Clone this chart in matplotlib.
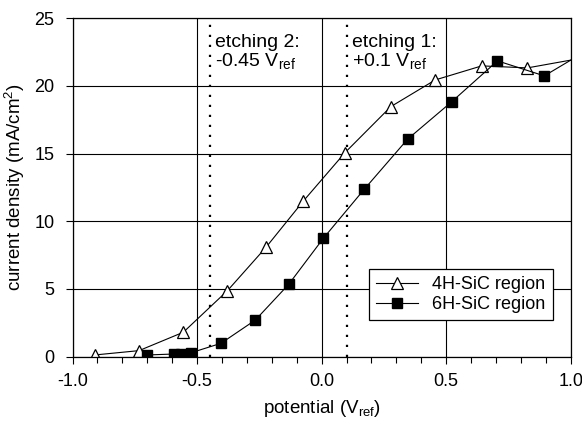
import matplotlib
matplotlib.use("Agg")
import matplotlib.pyplot as plt
from matplotlib.ticker import MultipleLocator

plt.rcParams['font.family'] = ['Liberation Sans', 'DejaVu Sans']
plt.rcParams['mathtext.fontset'] = 'custom'
plt.rcParams['mathtext.rm'] = 'Liberation Sans'
plt.rcParams['mathtext.it'] = 'Liberation Sans'

# 4H-SiC region (open triangles)
pot_4h = [-0.91, -0.733, -0.555, -0.378, -0.223, -0.073, 0.094, 0.278, 0.456, 0.643, 0.826, 1.05]
cur_4h = [0.12, 0.44, 1.8, 4.87, 8.08, 11.5, 15.07, 18.47, 20.44, 21.48, 21.33, 22.07]

# 6H-SiC region (filled squares)
pot_6h = [-0.70, -0.592, -0.565, -0.523, -0.404, -0.266, -0.132, 0.007, 0.171, 0.345, 0.523, 0.706, 0.894, 1.05]
cur_6h = [0.12, 0.19, 0.21, 0.29, 0.98, 2.7, 5.34, 8.74, 12.36, 16.06, 18.84, 21.85, 20.74, 22.45]

etch_pot = [-0.45, 0.1]
etch_txt = ["etching 2:\n-0.45 V$_{\\mathrm{ref}}$", "etching 1:\n+0.1 V$_{\\mathrm{ref}}$"]

fig = plt.figure(figsize=(5.82, 4.24), dpi=100)
ax = fig.add_axes([0.1246, 0.159, 0.856, 0.798])

ax.grid(True, which='major', color='black', linewidth=0.8)
ax.set_axisbelow(True)

for xv, txt in zip(etch_pot, etch_txt):
    ax.axvline(xv, color='black', linestyle=(0, (1, 3.5)), linewidth=1.6)
    ax.text(xv + 0.02, 23.85, txt, fontsize=14, va='top', ha='left',
            linespacing=1.0)

ax.plot(pot_4h, cur_4h, color='black', linewidth=0.8, marker='^', markersize=8,
        markerfacecolor='white', markeredgecolor='black', markeredgewidth=0.9,
        label='4H-SiC region', clip_on=True)
ax.plot(pot_6h, cur_6h, color='black', linewidth=0.8, marker='s', markersize=7,
        markerfacecolor='black', markeredgecolor='black',
        label='6H-SiC region', clip_on=True)

ax.set_xlim(-1.0, 1.0)
ax.set_ylim(0, 25)
ax.xaxis.set_major_locator(MultipleLocator(0.5))
ax.xaxis.set_minor_locator(MultipleLocator(0.1))
ax.yaxis.set_major_locator(MultipleLocator(5))
ax.xaxis.set_major_formatter(plt.FormatStrFormatter('%.1f'))
ax.tick_params(axis='both', which='major', direction='out', length=5, width=0.8,
               labelsize=13, colors='black')
ax.tick_params(axis='x', which='major', pad=6.5)
ax.tick_params(axis='y', which='major', pad=8)
ax.tick_params(axis='x', which='minor', direction='out', length=4, width=0.8)

for sp in ax.spines.values():
    sp.set_color('black')
    sp.set_linewidth(0.9)

ax.set_xlabel("potential (V$_{\\mathrm{ref}}$)", fontsize=13.5, labelpad=6)
ax.set_ylabel("current density (mA/cm$^{2}$)", fontsize=13.5, labelpad=5)

leg = ax.legend(loc='lower left', bbox_to_anchor=(0.595, 0.108), borderaxespad=0,
                fontsize=13, frameon=True, fancybox=False, handlelength=2.3,
                handletextpad=0.8, borderpad=0.4, labelspacing=0.15)
leg.get_frame().set_edgecolor('black')
leg.get_frame().set_linewidth(0.9)
leg.get_frame().set_alpha(1.0)

fig.savefig("out.png", dpi=100)
